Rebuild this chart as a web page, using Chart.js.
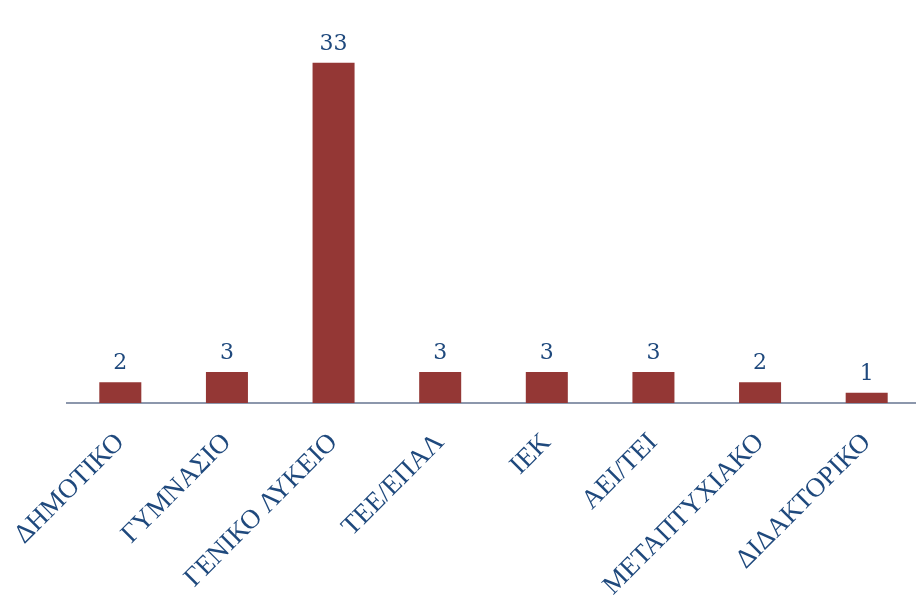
<!DOCTYPE html>
<html>
<head>
<meta charset="utf-8">
<script src="https://cdn.jsdelivr.net/npm/chart.js@4.4.1/dist/chart.umd.min.js"></script>
<style>
  html, body { margin: 0; padding: 0; background: #ffffff; overflow: hidden; }
  #grafico { display: block; }
</style>
</head>
<body>
<canvas id="grafico" width="920" height="598"></canvas>
<script>
// Livello di istruzione - categorie e valori
var categorie = ['ΔΗΜΟΤΙΚΟ', 'ΓΥΜΝΑΣΙΟ', 'ΓΕΝΙΚΟ ΛΥΚΕΙΟ', 'ΤΕΕ/ΕΠΑΛ', 'ΙΕΚ', 'ΑΕΙ/ΤΕΙ', 'ΜΕΤΑΠΤΥΧΙΑΚΟ', 'ΔΙΔΑΚΤΟΡΙΚΟ'];
var valori = [2, 3, 33, 3, 3, 3, 2, 1];

var coloreBarre = '#943735';
var coloreTesto = '#1F497D';

// etichette con il valore sopra ogni barra
var etichetteValori = {
    id: 'etichetteValori',
    afterDatasetsDraw: function (chart) {
        var ctx = chart.ctx;
        var meta = chart.getDatasetMeta(0);
        ctx.save();
        ctx.fillStyle = coloreTesto;
        ctx.font = '22px "DejaVu Serif", "Liberation Serif", serif';
        ctx.textAlign = 'center';
        ctx.textBaseline = 'alphabetic';
        meta.data.forEach(function (bar, i) {
            ctx.fillText(String(valori[i]), bar.x, bar.y - 13);
        });
        ctx.restore();
    }
};

var ctx = document.getElementById('grafico').getContext('2d');
var grafico = new Chart(ctx, {
    type: 'bar',
    data: {
        labels: categorie,
        datasets: [{
            data: valori,
            backgroundColor: coloreBarre,
            borderWidth: 0,
            categoryPercentage: 1,
            barPercentage: 0.394
        }]
    },
    options: {
        responsive: false,
        animation: false,
        devicePixelRatio: 1,
        layout: { padding: { left: 67, top: 42, right: 0, bottom: 0 } },
        plugins: {
            legend: { display: false },
            tooltip: { enabled: false }
        },
        scales: {
            x: {
                grid: { display: false, drawTicks: false },
                border: { display: true, color: '#8C97AC', width: 2 },
                ticks: {
                    color: coloreTesto,
                    font: { family: '"Liberation Serif", "Times New Roman", serif', size: 27 },
                    minRotation: 45,
                    maxRotation: 45,
                    padding: 24
                },
                afterFit: function (scale) {
                    // altezza fissa e nessun margine extra ai lati per le etichette ruotate
                    scale.height = 195;
                    scale.paddingLeft = 0;
                    scale.paddingRight = 0;
                }
            },
            y: {
                display: false,
                min: 0,
                max: 35
            }
        }
    },
    plugins: [etichetteValori]
});
</script>
</body>
</html>
